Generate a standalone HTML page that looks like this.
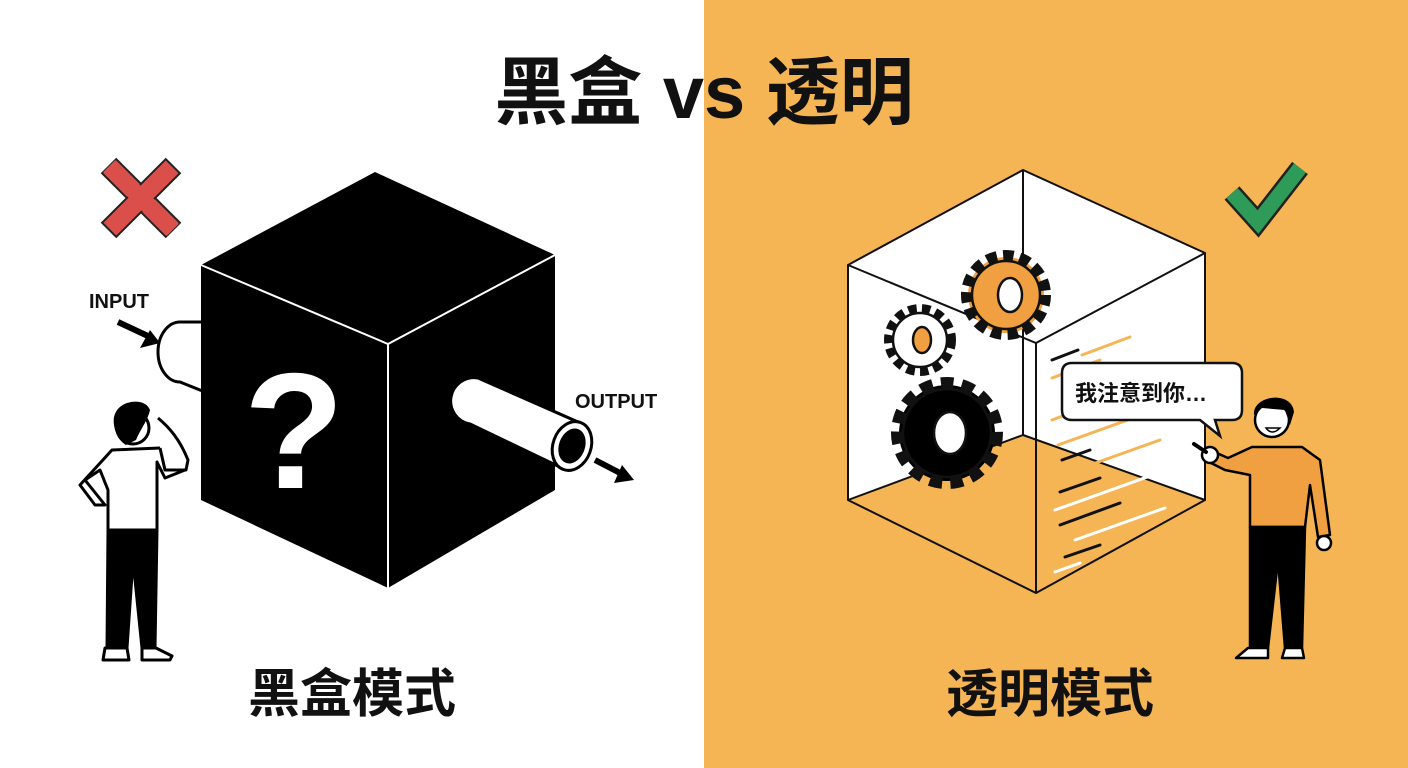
<!DOCTYPE html>
<html><head><meta charset="utf-8"><style>
html,body{margin:0;padding:0;width:1408px;height:768px;overflow:hidden;background:#fff}
svg{display:block}
text{font-family:"Liberation Sans","Noto Sans CJK SC",sans-serif;font-weight:bold}
</style></head><body>
<svg width="1408" height="768" viewBox="0 0 1408 768" xmlns="http://www.w3.org/2000/svg">
<rect x="0" y="0" width="704" height="768" fill="#ffffff"/>
<rect x="704" y="0" width="704" height="768" fill="#F6B555"/>

<text x="704" y="118" font-size="74" text-anchor="middle" fill="#111">黑盒 vs 透明</text>
<text x="352" y="712" font-size="52" text-anchor="middle" fill="#111">黑盒模式</text>
<text x="1050" y="712" font-size="52" text-anchor="middle" fill="#111">透明模式</text>

<!-- red X -->
<g transform="translate(141,198) rotate(45)">
<rect x="-45" y="-10" width="90" height="20" fill="#DB4F4B" stroke="#222" stroke-width="2"/>
<rect x="-10" y="-45" width="20" height="90" fill="#DB4F4B" stroke="#222" stroke-width="2"/>
<rect x="-45" y="-8.5" width="90" height="17" fill="#DB4F4B"/>
</g>
<!-- green check -->
<polyline points="1232,193 1258,222 1300,168" fill="none" stroke="#222" stroke-width="20" stroke-linejoin="miter"/>
<polyline points="1232,193 1258,222 1300,168" fill="none" stroke="#2E9C58" stroke-width="15" stroke-linejoin="miter"/>

<!-- input pipe -->
<path d="M205,322 L180,322 A22,30 0 0 0 180,382 L205,392 Z" fill="#fff" stroke="#000" stroke-width="3"/>
<text x="89" y="308" font-size="20" fill="#111">INPUT</text>
<path d="M118,322 L150,337" stroke="#000" stroke-width="6"/>
<polygon points="160,343 140,348 150,330" fill="#000"/>

<!-- black cube -->
<polygon points="201,265 375,172 555,255 555,490 388,588 201,500" fill="#000"/>
<polyline points="201,265 388,344 555,255" fill="none" stroke="#fff" stroke-width="2"/>
<line x1="388" y1="344" x2="388" y2="588" stroke="#fff" stroke-width="2"/>
<text x="294" y="488" font-size="165" text-anchor="middle" fill="#fff" font-family="Liberation Sans">?</text>

<!-- output pipe -->
<path d="M478,378 L578,422 L562,468 L470,424 A23,23 0 0 1 478,378 Z" fill="#fff" stroke="#000" stroke-width="3"/>
<ellipse cx="572" cy="446" rx="19" ry="25" fill="#fff" stroke="#000" stroke-width="3" transform="rotate(20 572 446)"/>
<ellipse cx="572" cy="446" rx="13" ry="18" fill="#000" transform="rotate(20 572 446)"/>
<text x="575" y="408" font-size="20" fill="#111">OUTPUT</text>
<path d="M595,460 L622,474" stroke="#000" stroke-width="6"/>
<polygon points="634,480 614,483 622,465" fill="#000"/>

<!-- left person -->
<g stroke="#000" stroke-width="3" stroke-linejoin="round">
<path d="M112,450 L160,448 L185,470 L165,478 L157,462 L157,530 L108,530 L108,490 L100,470 L85,480 L105,505 L95,505 L80,485 Z" fill="#fff"/>
<path d="M108,530 L157,530 L155,648 L142,648 L133,560 L127,648 L107,648 Z" fill="#000"/>
<path d="M105,648 L127,648 L129,660 L103,660 Z" fill="#fff"/>
<path d="M142,648 L156,648 L172,656 L170,660 L142,660 Z" fill="#fff"/>
<path d="M158,418 C170,428 180,440 188,460 L186,470 L165,470 L160,448" fill="#fff"/>
</g>
<circle cx="133" cy="428" r="16" fill="#fff" stroke="#000" stroke-width="3"/>
<path d="M114,425 C110,400 145,395 150,410 C148,420 140,430 136,440 L126,445 C118,440 115,432 114,425 Z" fill="#000"/>

<!-- transparent cube -->
<polygon points="848,265 1023,170 1205,253 1205,500 1036,593 848,500" fill="#fff"/>
<polygon points="848,500 1023,435 1205,500 1036,593" fill="#F6B555"/>
<g stroke="#111" stroke-width="2" fill="none">
<polygon points="848,265 1023,170 1205,253 1205,500 1036,593 848,500"/>
<polyline points="848,265 1036,343 1205,253"/>
<line x1="1036" y1="343" x2="1036" y2="593"/>
<line x1="1023" y1="170" x2="1023" y2="435"/>
<line x1="848" y1="500" x2="1023" y2="435"/>
<line x1="1023" y1="435" x2="1205" y2="500"/>
</g>
<!-- code lines -->
<g stroke-width="3" stroke-linecap="round">
<line x1="1052" y1="360" x2="1078" y2="350" stroke="#111"/>
<line x1="1082" y1="355" x2="1130" y2="337" stroke="#F6B555"/>
<line x1="1052" y1="378" x2="1100" y2="360" stroke="#F6B555"/>
<line x1="1052" y1="420" x2="1120" y2="395" stroke="#F6B555"/>
<line x1="1058" y1="445" x2="1150" y2="412" stroke="#F6B555"/>
<line x1="1062" y1="460" x2="1090" y2="450" stroke="#111"/>
<line x1="1062" y1="475" x2="1160" y2="440" stroke="#F6B555"/>
<line x1="1060" y1="492" x2="1100" y2="478" stroke="#111"/>
<line x1="1055" y1="510" x2="1150" y2="476" stroke="#fff"/>
<line x1="1060" y1="525" x2="1120" y2="503" stroke="#111"/>
<line x1="1075" y1="540" x2="1165" y2="508" stroke="#fff"/>
<line x1="1065" y1="557" x2="1100" y2="545" stroke="#111"/>
<line x1="1055" y1="572" x2="1080" y2="563" stroke="#fff"/>
</g>
<!-- gears -->
<g stroke="#111" stroke-width="2.5">
<circle cx="1006" cy="295" r="38" fill="#F0A040" stroke-dasharray="10 6" stroke-width="14"/>
<circle cx="1006" cy="295" r="34" fill="#F0A040"/>
<ellipse cx="1010" cy="295" rx="12" ry="17" fill="#fff"/>
<circle cx="920" cy="340" r="30" fill="#fff" stroke-dasharray="8 5" stroke-width="12"/>
<circle cx="920" cy="340" r="27" fill="#fff"/>
<ellipse cx="922" cy="340" rx="9" ry="13" fill="#F0A040"/>
<circle cx="947" cy="433" r="48" fill="#000" stroke-dasharray="12 8" stroke-width="16"/>
<circle cx="947" cy="433" r="44" fill="#000"/>
<ellipse cx="950" cy="433" rx="16" ry="21" fill="#fff"/>
</g>
<!-- speech bubble -->
<path d="M1072,363 L1232,363 Q1242,363 1242,373 L1242,410 Q1242,420 1232,420 L1215,420 L1220,436 L1200,420 L1072,420 Q1062,420 1062,410 L1062,373 Q1062,363 1072,363 Z" fill="#fff" stroke="#111" stroke-width="2.5"/>
<text x="1075" y="401" font-size="22" fill="#111">我注意到你…</text>

<!-- right person -->
<g stroke="#000" stroke-width="2.5" stroke-linejoin="round">
<path d="M1252,447 L1302,447 L1320,460 L1330,535 L1318,537 L1310,485 L1305,527 L1250,527 L1250,475 L1225,470 L1205,460 L1210,450 L1228,458 Z" fill="#F0A040"/>
<path d="M1250,527 L1305,527 L1302,648 L1285,648 L1278,560 L1268,648 L1250,648 Z" fill="#000"/>
<path d="M1248,648 L1268,648 L1268,658 L1236,658 Z" fill="#fff"/>
<path d="M1285,648 L1302,648 L1304,658 L1282,658 Z" fill="#fff"/>
<circle cx="1210" cy="455" r="8" fill="#fff"/>
<circle cx="1324" cy="543" r="7" fill="#fff"/>
</g>
<line x1="1194" y1="444" x2="1206" y2="452" stroke="#000" stroke-width="4" stroke-linecap="round"/>
<circle cx="1272" cy="420" r="17" fill="#fff" stroke="#000" stroke-width="2.5"/>
<path d="M1254,415 C1252,395 1292,390 1294,412 L1290,425 L1285,410 L1262,408 Z" fill="#000"/>
<path d="M1266,428 Q1272,436 1280,428 Z" fill="#fff" stroke="#000" stroke-width="1.5"/>
</svg>
</body></html>
